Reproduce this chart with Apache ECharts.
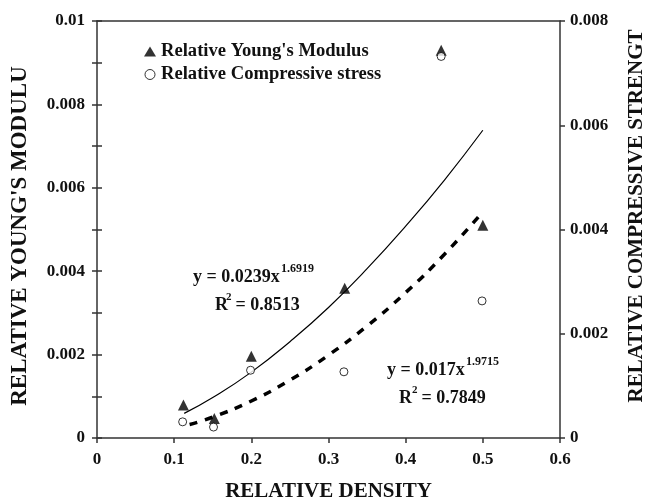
<!DOCTYPE html>
<html>
<head>
<meta charset="utf-8">
<script src="https://cdn.jsdelivr.net/npm/echarts@6/dist/echarts.min.js"></script>
<style>html,body{margin:0;padding:0;background:#fff;overflow:hidden;}#c{width:647px;height:501px;}</style>
</head>
<body>
<div id="c"></div>
<script>
// Measured points
var youngX = [0.112, 0.152, 0.200, 0.321, 0.446, 0.500];
var youngY = [0.00079, 0.00047, 0.00196, 0.00359, 0.0093, 0.0051];
var compX = [0.111, 0.151, 0.199, 0.320, 0.446, 0.499];
var compY = [0.00031, 0.00021, 0.0013, 0.00127, 0.00732, 0.00263];
// Trend curves
var fitYoungX = [0.113, 0.15, 0.2, 0.25, 0.3, 0.35, 0.4, 0.45, 0.5];
var fitYoungY = [0.00059, 0.00097, 0.00158, 0.00231, 0.00313, 0.00406, 0.00508, 0.00618, 0.00738];
var fitCompX = [0.12, 0.15, 0.2, 0.25, 0.3, 0.35, 0.4, 0.45, 0.5];
var fitCompY = [0.00026, 0.00040, 0.00071, 0.00111, 0.00159, 0.00215, 0.00279, 0.00352, 0.00434];
var xTicks = [0, 0.1, 0.2, 0.3, 0.4, 0.5, 0.6];
var leftTicks = [0, 0.002, 0.004, 0.006, 0.008, 0.01];
var rightTicks = [0, 0.002, 0.004, 0.006, 0.008];
var seriesNames = ["Relative Young's Modulus", "Relative Compressive stress"];
var axisNames = ['RELATIVE DENSITY', "RELATIVE YOUNG'S MODULU", 'RELATIVE COMPRESSIVE STRENGT'];
var eq1 = ['y = 0.0239x', '1.6919', 'R', '2', ' = 0.8513'];
var eq2 = ['y = 0.017x', '1.9715', 'R', '2', ' = 0.7849'];

function pairs(xs, ys){ return xs.map(function(x,i){ return [x, ys[i]]; }); }
var F = 'Liberation Serif';
var lineC = '#333';
var TC = '#111';

var chart = echarts.init(document.getElementById('c'), null, {renderer:'canvas'});
var axisLabelStyle = {fontFamily:F, fontWeight:'bold', fontSize:17, color:TC};
var nameStyle = {fontFamily:F, fontWeight:'bold', fontSize:21, color:TC};

function txt(s, x, y, size, extra){
  var st = {text:s, x:x, y:y, fontFamily:F, fontWeight:'bold', fontSize:size, fill:TC, align:'left', verticalAlign:'middle'};
  if (extra) for (var k in extra) st[k] = extra[k];
  return {type:'text', style:st, z:10};
}
function eqGraphic(eq, p){
  return [
    txt(eq[0], p.x1, p.y1, 18),
    txt(eq[1], p.sx1, p.y1 - 8, 12),
    txt(eq[2], p.x2, p.y2, 18),
    txt(eq[3], p.sx2, p.y2 - 8, 11),
    txt(eq[4], p.sx2 + 5, p.y2, 18)
  ];
}

chart.setOption({
  backgroundColor:'#fff',
  animation:false,
  grid:{left:97, right:87, top:21, bottom:63, containLabel:false, outerBoundsMode:'none'},
  legend:{
    orient:'vertical', left:139, top:37, itemGap:4, itemWidth:12, itemHeight:10,
    textStyle:{fontFamily:F, fontWeight:'bold', fontSize:18.6, color:TC},
    data:[{name:seriesNames[0]}, {name:seriesNames[1], itemStyle:{borderWidth:1}}]
  },
  xAxis:[{
    type:'value', min:xTicks[0], max:xTicks[xTicks.length-1], interval:0.1, position:'bottom',
    name:axisNames[0], nameLocation:'middle', nameGap:43, nameTextStyle:nameStyle,
    axisLine:{show:true, onZero:false, lineStyle:{color:lineC, width:1.5}},
    axisTick:{show:true, inside:false, length:5, lineStyle:{color:lineC, width:1.5}},
    axisLabel:{margin:13, ...axisLabelStyle},
    splitLine:{show:false}
  },{
    type:'value', min:0, max:0.6, interval:0.1, position:'top',
    axisLine:{show:true, onZero:false, lineStyle:{color:lineC, width:1.5}},
    axisTick:{show:false}, axisLabel:{show:false}, splitLine:{show:false}
  }],
  yAxis:[{
    type:'value', min:leftTicks[0], max:leftTicks[leftTicks.length-1], interval:0.002, position:'left',
    axisLine:{show:true, onZero:false, lineStyle:{color:lineC, width:1.5}},
    axisTick:{show:true, inside:false, length:5, lineStyle:{color:lineC, width:1.5}},
    minorTick:{show:true, splitNumber:2, length:5, lineStyle:{color:lineC, width:1.5}},
    axisLabel:{margin:12, ...axisLabelStyle},
    splitLine:{show:false}, minorSplitLine:{show:false}
  },{
    type:'value', min:rightTicks[0], max:rightTicks[rightTicks.length-1], interval:0.002, position:'right',
    axisLine:{show:true, onZero:false, lineStyle:{color:lineC, width:1.5}},
    axisTick:{show:true, inside:false, length:5, lineStyle:{color:lineC, width:1.5}},
    axisLabel:{margin:10, ...axisLabelStyle},
    splitLine:{show:false}
  },{
    type:'value', min:0, max:0.01, interval:0.002, position:'left',
    axisLine:{show:false},
    axisTick:{show:true, inside:true, length:5, lineStyle:{color:lineC, width:1.5}},
    minorTick:{show:true, splitNumber:2, length:5, lineStyle:{color:lineC, width:1.5}},
    axisLabel:{show:false}, splitLine:{show:false}, minorSplitLine:{show:false}
  }],
  series:[{
    name:seriesNames[0], type:'scatter', xAxisIndex:0, yAxisIndex:0,
    symbol:'triangle', symbolSize:11, itemStyle:{color:'#000'},
    data:pairs(youngX, youngY), z:5
  },{
    name:seriesNames[1], type:'scatter', xAxisIndex:0, yAxisIndex:1,
    symbol:'circle', symbolSize:8, itemStyle:{color:'#fff', borderColor:'#000', borderWidth:1},
    data:pairs(compX, compY), z:6
  },{
    name:'fitYoung', type:'line', xAxisIndex:0, yAxisIndex:0, smooth:true, showSymbol:false, symbol:'none',
    lineStyle:{color:'#000', width:1.2, type:'solid'}, data:pairs(fitYoungX, fitYoungY), z:3
  },{
    name:'fitComp', type:'line', xAxisIndex:0, yAxisIndex:1, smooth:true, showSymbol:false, symbol:'none',
    lineStyle:{color:'#000', width:3.5, type:[8,8]}, data:pairs(fitCompX, fitCompY), z:3
  }],
  graphic:[].concat(
    eqGraphic(eq1, {x1:193, y1:277, sx1:281, x2:215, y2:305, sx2:226}),
    eqGraphic(eq2, {x1:387, y1:370, sx1:466, x2:399, y2:398, sx2:412}),
    [
      {type:'text', rotation:Math.PI/2, x:20, y:236, style:{text:axisNames[1], fontFamily:F, fontWeight:'bold', fontSize:23, fill:TC, align:'center', verticalAlign:'middle'}},
      {type:'text', rotation:Math.PI/2, x:637, y:216, style:{text:axisNames[2], fontFamily:F, fontWeight:'bold', fontSize:21, fill:TC, align:'center', verticalAlign:'middle'}}
    ]
  )
});
</script>
</body>
</html>
